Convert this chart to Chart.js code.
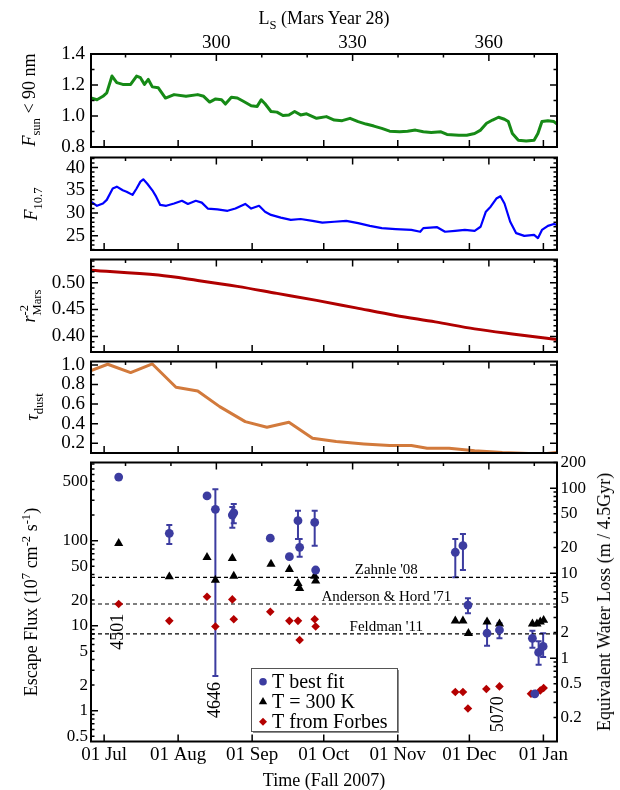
<!DOCTYPE html>
<html>
<head>
<meta charset="utf-8">
<script src="https://cdn.jsdelivr.net/npm/chart.js@4.4.1/dist/chart.umd.min.js"></script>
<style>
  body { margin: 0; background: #fff; }
  #page { position: relative; width: 620px; height: 790px; overflow: hidden;
          font-family: 'Liberation Serif', 'Times New Roman', serif; color: #000; }
  .box { position: absolute; left: 0; width: 620px; }
  .rot { position: absolute; white-space: nowrap; font-size: 18px; line-height: 1;
         transform: translate(-50%, -50%) rotate(-90deg); }
  .hor { position: absolute; white-space: nowrap; font-size: 18px; line-height: 1;
         transform: translate(-50%, -50%); }
  sub, sup { font-size: 70%; line-height: 0; }
  .stack { display: inline-block; vertical-align: middle; font-size: 70%; line-height: 1.05; text-align: left; }
  .stack span { display: block; }
</style>
</head>
<body>
<div id="page">
  <div class="box" style="top:0;height:165px"><canvas id="c1"></canvas></div>
  <div class="box" style="top:140px;height:130px"><canvas id="c2"></canvas></div>
  <div class="box" style="top:242px;height:130px"><canvas id="c3"></canvas></div>
  <div class="box" style="top:344px;height:130px"><canvas id="c4"></canvas></div>
  <div class="box" style="top:446px;height:344px"><canvas id="c5"></canvas></div>

  <div class="hor" style="left:324px;top:18px">L<sub>S</sub> (Mars Year 28)</div>
  <div class="rot" style="left:29px;top:100px"><i>F</i><sub>sun</sub> &lt; 90 nm</div>
  <div class="rot" style="left:31px;top:204px"><i>F</i><sub>10.7</sub></div>
  <div class="rot" style="left:31px;top:306px"><i>r</i><span class="stack"><span>-2</span><span>Mars</span></span></div>
  <div class="rot" style="left:32px;top:407px"><i>&tau;</i><sub>dust</sub></div>
  <div class="rot" style="left:31px;top:602px">Escape Flux (10<sup>7</sup> cm<sup>-2</sup> s<sup>-1</sup>)</div>
  <div class="rot" style="left:604px;top:602px">Equivalent Water Loss (m / 4.5Gyr)</div>
</div>
<script>
// time axis: days counted from 01 Jul 2007
const dayMin = -5.5, dayMax = 189.7;
const monthDays = [0, 31, 62, 92, 123, 153, 184];
const monthLabels = ["01 Jul", "01 Aug", "01 Sep", "01 Oct", "01 Nov", "01 Dec", "01 Jan"];
// solar longitude (top axis)
const lsMin = 272.4, lsMax = 375.0;
const lsTicks = [280, 290, 300, 310, 320, 330, 340, 350, 360, 370];
const lsLabels = [300, 330, 360];

// F_sun < 90 nm
const fsunDays = [-5.5, -3.0, -0.5, 1.1, 3.3, 5.3, 7.8, 11.1, 13.6, 15.2, 16.9, 18.5, 20.2, 22.7, 25.7, 29.3, 34.3, 39.2, 41.7, 44.2, 46.7, 49.2, 50.8, 53.3, 55.8, 58.3, 61.6, 64.1, 65.8, 67.4, 69.9, 72.4, 74.9, 77.4, 79.8, 82.3, 84.8, 89.0, 93.1, 96.4, 99.7, 103.0, 106.4, 109.7, 113.0, 116.3, 119.6, 123.8, 127.1, 130.4, 133.7, 137.0, 141.1, 143.6, 148.6, 151.9, 155.2, 157.7, 160.2, 162.7, 165.2, 167.7, 169.3, 171.0, 173.5, 176.8, 180.1, 181.7, 183.4, 185.9, 188.4, 189.7];
const fsunVals = [1.116, 1.105, 1.127, 1.149, 1.258, 1.215, 1.204, 1.204, 1.258, 1.247, 1.204, 1.236, 1.188, 1.182, 1.116, 1.138, 1.127, 1.138, 1.127, 1.090, 1.110, 1.105, 1.077, 1.121, 1.116, 1.095, 1.066, 1.062, 1.105, 1.079, 1.029, 1.025, 1.003, 1.007, 1.029, 1.007, 1.014, 0.985, 0.996, 0.974, 0.970, 0.985, 0.964, 0.948, 0.935, 0.920, 0.902, 0.898, 0.902, 0.909, 0.898, 0.894, 0.898, 0.881, 0.876, 0.876, 0.887, 0.909, 0.953, 0.974, 0.992, 0.979, 0.964, 0.887, 0.844, 0.839, 0.844, 0.887, 0.964, 0.970, 0.964, 0.948];
const fsunTicks = [0.8, 1.0, 1.2, 1.4];

// F10.7
const f107Days = [-5.5, -3.0, -0.5, 1.1, 3.6, 5.3, 7.8, 9.4, 11.9, 13.6, 15.2, 16.4, 18.0, 20.2, 21.8, 23.5, 26.0, 29.3, 32.6, 35.1, 38.4, 40.9, 43.4, 47.5, 51.7, 55.0, 59.1, 61.6, 64.9, 67.4, 69.9, 74.0, 78.2, 82.3, 87.3, 91.4, 96.4, 101.4, 106.4, 111.3, 116.3, 122.1, 128.7, 132.4, 133.7, 139.5, 142.8, 147.0, 151.1, 155.2, 157.7, 159.9, 161.9, 164.3, 166.0, 167.7, 170.1, 172.6, 176.0, 180.1, 181.7, 183.4, 185.9, 188.4, 189.7];
const f107Vals = [32.5, 31.6, 32.1, 32.9, 35.4, 35.8, 35.0, 34.7, 34.0, 35.4, 36.9, 37.4, 36.5, 35.0, 33.6, 31.8, 31.6, 32.1, 32.7, 32.0, 32.7, 32.3, 31.0, 30.8, 30.5, 31.0, 32.0, 31.0, 31.6, 30.3, 29.6, 29.0, 28.5, 28.7, 28.3, 27.9, 28.1, 28.3, 27.8, 27.2, 26.7, 26.5, 26.3, 25.9, 26.7, 26.9, 25.9, 26.1, 26.3, 26.1, 27.0, 30.3, 31.4, 33.2, 33.7, 32.1, 28.1, 25.6, 25.0, 25.2, 24.5, 26.3, 27.2, 27.6, 27.4];
const f107Ticks = [25, 30, 35, 40];

// r^-2 Mars
const rDays = [-5.5, 22.7, 39.2, 55.8, 72.4, 89.0, 105.5, 122.1, 138.7, 155.2, 171.8, 189.7];
const rVals = [0.523, 0.514, 0.504, 0.493, 0.480, 0.467, 0.453, 0.439, 0.427, 0.414, 0.404, 0.394];
const rTicks = [0.40, 0.45, 0.50];

// dust opacity
const tauDays = [-5.5, 1.5, 11.1, 20.2, 30.1, 39.2, 48.4, 59.1, 68.2, 77.4, 87.3, 97.2, 108.8, 119.6, 128.7, 135.3, 144.5, 155.2, 166.8, 183.4, 189.7];
const tauVals = [0.942, 1.007, 0.922, 1.01, 0.772, 0.734, 0.574, 0.421, 0.363, 0.414, 0.251, 0.217, 0.193, 0.176, 0.176, 0.149, 0.149, 0.122, 0.105, 0.091, 0.105];
const tauTicks = [0.2, 0.4, 0.6, 0.8, 1.0];

// escape flux, 10^7 cm^-2 s^-1
const bestDays = [6.1, 27.3, 43.1, 46.6, 53.7, 54.3, 69.6, 77.6, 81.2, 81.9, 88.2, 88.6, 147.1, 150.3, 152.4, 160.4, 165.6, 179.4, 180.4, 182.0, 183.9];
const bestVals = [561, 122, 336, 234, 200, 213, 107, 64.8, 172, 83.6, 164, 45.2, 73.1, 87.3, 17.5, 8.15, 8.9, 7.1, 1.58, 4.85, 5.71];
const bestLo = [null, 91.4, null, 2.56, 142, 160, null, null, 105, 64.8, 87.3, null, 37.1, 45.2, 14.0, 5.8, 7.1, 5.5, null, 3.48, 4.28];
const bestHi = [null, 153, null, 403, 250, 270, null, null, 225, 105, 225, null, 105, 120, 21, 11.1, 10.7, 8.7, null, 6.54, 8.15];
const t300Days = [6.1, 27.3, 43.1, 46.6, 53.7, 54.3, 69.9, 77.6, 81.2, 81.9, 88.2, 88.6, 147.1, 150.3, 152.6, 160.4, 165.6, 179.4, 181.3, 182.7, 184.1];
const t300Vals = [93.2, 37.7, 63.8, 34.5, 62.1, 38.4, 53.2, 46.1, 31.6, 27.5, 38.4, 33.6, 11.4, 11.4, 8.15, 11.1, 10.5, 10.5, 10.5, 11.1, 11.6];
const forbesDays = [6.1, 27.3, 43.1, 46.6, 53.7, 54.3, 69.6, 77.6, 81.2, 81.9, 88.2, 88.6, 147.1, 150.3, 152.4, 160.1, 165.6, 178.8, 180.6, 182.7, 184.1];
const forbesVals = [18.0, 11.4, 21.9, 9.8, 20.4, 11.9, 14.6, 11.4, 11.4, 6.8, 11.9, 9.8, 1.66, 1.66, 1.06, 1.8, 1.93, 1.58, 1.58, 1.73, 1.85];
const fluxTicks = [0.5, 1, 2, 5, 10, 20, 50, 100, 500];
const lossTicks = [0.2, 0.5, 1, 2, 5, 10, 20, 50, 100, 200];
const fluxMin = 0.434, fluxMax = 832;
const lossPerFlux = 1 / 4.15; // m / 4.5Gyr per unit of flux

// earlier estimates (dashed lines)
const refVals = [37, 18, 8.0];
const refNames = ["Zahnle '08", "Anderson & Hord '71", "Feldman '11"];
const refLabelDay = 118.2;

// orbit numbers
const orbitDays = [6.1, 46.6, 165.3];
const orbitVals = [8.5, 1.34, 0.91];
const orbitNames = ["4501", "4646", "5070"];

const legendNames = ["T best fit", "T = 300 K", "T from Forbes"];

const bestColor = "#3c3ca0";
const forbesColor = "#b40000";

Chart.defaults.font.family = "'Liberation Serif', 'Times New Roman', serif";
Chart.defaults.font.size = 19;
Chart.defaults.color = "#000";
Chart.defaults.animation = false;
Chart.defaults.plugins.legend.display = false;
Chart.defaults.plugins.tooltip.enabled = false;

function series(days, vals) {
    return days.map((d, i) => ({ x: d, y: vals[i] }));
}

// inward ticks on all four sides plus the heavy frame
const frame = {
    id: "frame",
    afterDatasetsDraw(chart, args, opts) {
        const ctx = chart.ctx;
        const a = chart.chartArea;
        const x = chart.scales.x, ls = chart.scales.ls, y = chart.scales.y, y2 = chart.scales.y2;
        ctx.save();
        ctx.strokeStyle = "#000";
        ctx.lineWidth = 1.5;
        ctx.beginPath();
        monthDays.forEach(d => {
            const px = x.getPixelForValue(d);
            ctx.moveTo(px, a.bottom);
            ctx.lineTo(px, a.bottom - 7);
        });
        lsTicks.forEach(v => {
            const px = ls.getPixelForValue(v);
            ctx.moveTo(px, a.top);
            ctx.lineTo(px, a.top + (lsLabels.includes(v) ? 7 : 3.5));
        });
        const tick = (sc, v, len, edge, dir) => {
            const py = sc.getPixelForValue(v);
            ctx.moveTo(edge, py);
            ctx.lineTo(edge + dir * len, py);
        };
        if (opts.log) {
            [[y, a.left, 1], [y2, a.right, -1]].forEach(([sc, edge, dir]) => {
                for (let e = -2; e <= 3; e++) {
                    for (let k = 1; k <= 9; k++) {
                        const v = k * Math.pow(10, e);
                        if (v > sc.min && v < sc.max) tick(sc, v, k === 1 ? 7 : 3.5, edge, dir);
                    }
                }
            });
        } else if (opts.step) {
            const start = Math.ceil(y.min / opts.step - 1e-6);
            for (let i = start; i * opts.step <= y.max + 1e-9; i++) {
                const v = i * opts.step;
                const major = y.ticks.some(t => Math.abs(t.value - v) < 1e-6);
                tick(y, v, major ? 7 : 3.5, a.left, 1);
                tick(y, v, major ? 7 : 3.5, a.right, -1);
            }
        }
        ctx.stroke();
        ctx.lineWidth = 2;
        ctx.strokeRect(a.left, a.top, a.right - a.left, a.bottom - a.top);
        ctx.restore();
    }
};
Chart.register(frame);

const noGrid = { display: false, drawTicks: false };

function yAxis(min, max, ticks, digits) {
    return {
        min: min,
        max: max,
        grid: noGrid,
        border: { display: false },
        afterBuildTicks: s => { s.ticks = ticks.map(v => ({ value: v })); },
        afterFit: s => { s.width = 91; },
        ticks: { autoSkip: false, padding: 6, callback: v => v.toFixed(digits) }
    };
}

function timeAxisHidden() {
    return { type: "linear", min: dayMin, max: dayMax, display: false };
}

function lsAxis(show) {
    if (!show) return { type: "linear", position: "top", min: lsMin, max: lsMax, display: false };
    return {
        type: "linear", position: "top", min: lsMin, max: lsMax,
        grid: noGrid,
        border: { display: false },
        afterBuildTicks: s => { s.ticks = lsLabels.map(v => ({ value: v })); },
        afterFit: s => { s.height = 54; },
        ticks: { autoSkip: false, maxRotation: 0, padding: 0 }
    };
}

function linePanel(id, days, vals, color, width, y, step, showLs, padTop, padBottom, smooth) {
    return new Chart(document.getElementById(id), {
        type: "line",
        data: {
            datasets: [{
                data: series(days, vals),
                borderColor: color,
                borderWidth: width,
                pointRadius: 0,
                cubicInterpolationMode: smooth ? "monotone" : "default",
                borderJoinStyle: "round"
            }]
        },
        options: {
            responsive: true,
            maintainAspectRatio: false,
            events: [],
            layout: { padding: { left: 0, right: 63, top: padTop, bottom: padBottom } },
            scales: { x: timeAxisHidden(), ls: lsAxis(showLs), y: y },
            plugins: { frame: { step: step } }
        }
    });
}

linePanel("c1", fsunDays, fsunVals, "#168a16", 3, yAxis(0.8, 1.4, fsunTicks, 1), 0.1, true, 0, 18, false);
linePanel("c2", f107Days, f107Vals, "#0000ff", 2.2, yAxis(21.9, 42.2, f107Ticks, 0), 1, false, 17.5, 20, false);
linePanel("c3", rDays, rVals, "#b00000", 3, yAxis(0.371, 0.543, rTicks, 2), 0.01, false, 17.5, 20, true);
linePanel("c4", tauDays, tauVals, "#d27a3c", 3, yAxis(0.1, 1.035, tauTicks, 1), 0.1, false, 17.5, 21, false);

// error bars for the best fit points
const errorBars = {
    id: "errorBars",
    beforeDatasetsDraw(chart) {
        const ctx = chart.ctx, y = chart.scales.y;
        const meta = chart.getDatasetMeta(0);
        ctx.save();
        ctx.strokeStyle = bestColor;
        ctx.lineWidth = 2;
        ctx.beginPath();
        meta.data.forEach((pt, i) => {
            if (bestLo[i] === null) return;
            const top = y.getPixelForValue(bestHi[i]);
            const bot = y.getPixelForValue(bestLo[i]);
            ctx.moveTo(pt.x, top); ctx.lineTo(pt.x, bot);
            ctx.moveTo(pt.x - 3, top); ctx.lineTo(pt.x + 3, top);
            ctx.moveTo(pt.x - 3, bot); ctx.lineTo(pt.x + 3, bot);
        });
        ctx.stroke();
        ctx.restore();
    }
};

function marker(ctx, style, cx, cy, color) {
    ctx.fillStyle = color;
    ctx.beginPath();
    if (style === "circle") {
        ctx.arc(cx, cy, 3.8, 0, Math.PI * 2);
    } else if (style === "triangle") {
        ctx.moveTo(cx, cy - 4.6);
        ctx.lineTo(cx + 4.2, cy + 2.6);
        ctx.lineTo(cx - 4.2, cy + 2.6);
    } else {
        ctx.moveTo(cx, cy - 4);
        ctx.lineTo(cx + 4, cy);
        ctx.lineTo(cx, cy + 4);
        ctx.lineTo(cx - 4, cy);
    }
    ctx.closePath();
    ctx.fill();
}

// reference line labels, orbit numbers and the legend
const notes = {
    id: "notes",
    afterDraw(chart) {
        const ctx = chart.ctx, x = chart.scales.x, y = chart.scales.y;
        ctx.save();
        ctx.fillStyle = "#000";
        ctx.textAlign = "center";
        ctx.textBaseline = "middle";
        ctx.font = "15px 'Liberation Serif'";
        refVals.forEach((v, i) => {
            ctx.fillText(refNames[i], x.getPixelForValue(refLabelDay), y.getPixelForValue(v) - 7);
        });
        ctx.font = "18px 'Liberation Serif'";
        orbitNames.forEach((s, i) => {
            ctx.save();
            ctx.translate(x.getPixelForValue(orbitDays[i]), y.getPixelForValue(orbitVals[i]));
            ctx.rotate(-Math.PI / 2);
            ctx.fillText(s, 0, 0);
            ctx.restore();
        });
        const lx = 251, ly = 222, lw = 146, lh = 63;
        ctx.fillStyle = "#8c8c8c";
        ctx.fillRect(lx + 2, ly + 2, lw, lh);
        ctx.fillStyle = "#fff";
        ctx.fillRect(lx, ly, lw, lh);
        ctx.strokeStyle = "#555";
        ctx.lineWidth = 1;
        ctx.strokeRect(lx + 0.5, ly + 0.5, lw, lh);
        const styles = ["circle", "triangle", "rectRot"];
        const colors = [bestColor, "#000", forbesColor];
        ctx.font = "20px 'Liberation Serif'";
        ctx.textAlign = "left";
        legendNames.forEach((name, i) => {
            const cy = ly + 13.7 + i * 20;
            marker(ctx, styles[i], 263, cy, colors[i]);
            ctx.fillStyle = "#000";
            ctx.fillText(name, 272, cy + 1);
        });
        ctx.restore();
    }
};

const refSets = refVals.map(v => ({
    type: "line",
    data: [{ x: dayMin, y: v }, { x: dayMax, y: v }],
    borderColor: "#000",
    borderWidth: 1.2,
    borderDash: [4, 3],
    pointRadius: 0
}));

new Chart(document.getElementById("c5"), {
    type: "scatter",
    data: {
        datasets: [
            { data: series(bestDays, bestVals), pointStyle: "circle", pointRadius: 4.4, backgroundColor: bestColor, borderWidth: 0 },
            { data: series(t300Days, t300Vals), pointStyle: "triangle", pointRadius: 5.3, backgroundColor: "#000", borderWidth: 0 },
            { data: series(forbesDays, forbesVals), pointStyle: "rectRot", pointRadius: 4.3, backgroundColor: forbesColor, borderWidth: 0 }
        ].concat(refSets)
    },
    plugins: [errorBars, notes],
    options: {
        responsive: true,
        maintainAspectRatio: false,
        events: [],
        layout: { padding: { left: 0, right: 0, top: 16.5, bottom: 0 } },
        scales: {
            x: {
                type: "linear", min: dayMin, max: dayMax,
                grid: noGrid,
                border: { display: false },
                afterBuildTicks: s => { s.ticks = monthDays.map(v => ({ value: v })); },
                afterFit: s => { s.height = 48.5; },
                ticks: { autoSkip: false, maxRotation: 0, padding: 2,
                         callback: v => monthLabels[monthDays.indexOf(v)] },
                title: { display: true, text: "Time (Fall 2007)", font: { size: 18, lineHeight: 1 }, padding: 0 }
            },
            ls: lsAxis(false),
            y: {
                type: "logarithmic", min: fluxMin, max: fluxMax,
                grid: noGrid,
                border: { display: false },
                afterBuildTicks: s => { s.ticks = fluxTicks.map(v => ({ value: v })); },
                afterFit: s => { s.width = 91; },
                ticks: { autoSkip: false, padding: 3, font: { size: 17 }, callback: v => String(v) }
            },
            y2: {
                type: "logarithmic", position: "right",
                min: fluxMin * lossPerFlux, max: fluxMax * lossPerFlux,
                grid: noGrid,
                border: { display: false },
                afterBuildTicks: s => { s.ticks = lossTicks.map(v => ({ value: v })); },
                afterFit: s => { s.width = 63; },
                ticks: { autoSkip: false, padding: 3.5, font: { size: 17 }, callback: v => String(v) }
            }
        },
        plugins: { frame: { log: true } }
    }
});
</script>
</body>
</html>
